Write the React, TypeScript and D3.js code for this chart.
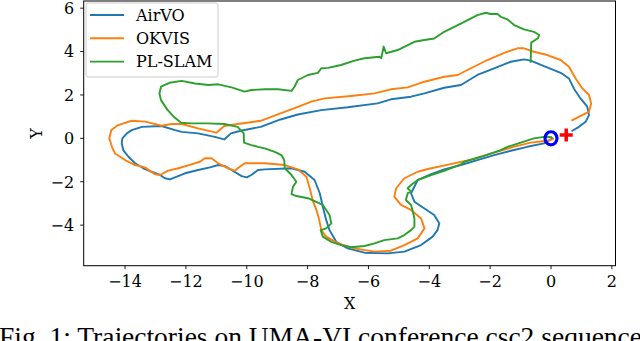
import React from 'react';
import * as d3 from 'd3';

// trajectories, [x, y] in metres
const airvo: [number, number][] = [
  [0.05, 0.0], [-0.23, -0.23], [-0.78, -0.39], [-1.32, -0.57], [-1.87, -0.77], [-2.42, -1.0],
  [-2.96, -1.23], [-3.51, -1.43], [-3.94, -1.65], [-4.38, -1.92], [-4.6, -2.53], [-4.49, -2.92],
  [-4.16, -3.23], [-3.84, -3.53], [-3.67, -3.92], [-3.73, -4.23], [-3.89, -4.53], [-4.27, -4.92],
  [-4.82, -5.22], [-5.37, -5.3], [-6.13, -5.27], [-6.68, -5.07], [-7.06, -4.77], [-7.28, -4.23],
  [-7.39, -3.76], [-7.5, -3.15], [-7.6, -2.53], [-7.77, -1.92], [-8.1, -1.54], [-8.53, -1.38],
  [-9.41, -1.43], [-9.63, -1.46], [-9.85, -1.69], [-10.0, -1.8], [-10.17, -1.74], [-10.5, -1.46],
  [-10.72, -1.28], [-10.94, -1.23], [-11.21, -1.34], [-11.6, -1.46], [-12.03, -1.61], [-12.36, -1.8],
  [-12.52, -1.89], [-12.69, -1.84], [-12.85, -1.69], [-13.13, -1.54], [-13.4, -1.38], [-13.67, -1.15],
  [-13.89, -0.85], [-14.06, -0.54], [-14.11, -0.23], [-14.09, 0.0], [-13.94, 0.23], [-13.78, 0.38],
  [-13.45, 0.53], [-12.8, 0.57], [-12.36, 0.38], [-12.14, 0.3], [-11.6, 0.23], [-11.05, 0.07],
  [-10.74, -0.05], [-10.52, 0.23], [-10.2, 0.35], [-9.54, 0.53], [-8.89, 0.87], [-8.32, 1.1],
  [-7.55, 1.3], [-6.68, 1.43], [-5.7, 1.61], [-5.26, 1.8], [-4.6, 1.92], [-4.16, 2.07],
  [-3.51, 2.33], [-2.96, 2.46], [-2.42, 2.92], [-1.87, 3.23], [-1.32, 3.53], [-0.89, 3.64],
  [-0.67, 3.58], [-0.23, 3.33], [0.32, 3.02], [0.59, 2.76], [0.75, 2.3], [0.97, 1.84],
  [1.19, 1.46], [1.25, 1.07], [1.14, 0.77], [0.92, 0.53], [0.7, 0.35]
];

const okvis: [number, number][] = [
  [0.05, -0.05], [-0.13, -0.11], [-0.67, -0.2], [-1.2, -0.38], [-2.01, -0.72], [-2.67, -1.0],
  [-3.34, -1.2], [-4.01, -1.4], [-4.38, -1.54], [-4.82, -1.84], [-5.09, -2.3], [-5.15, -2.69],
  [-4.93, -3.07], [-4.6, -3.3], [-4.27, -3.69], [-4.16, -4.15], [-4.38, -4.61], [-4.82, -4.92],
  [-5.26, -5.18], [-5.8, -5.22], [-6.46, -5.07], [-7.0, -4.84], [-7.39, -4.53], [-7.55, -4.23],
  [-7.63, -3.69], [-7.71, -3.3], [-7.82, -2.92], [-7.93, -2.3], [-8.04, -1.77], [-8.32, -1.43],
  [-8.75, -1.23], [-9.41, -1.15], [-10.07, -1.15], [-10.23, -1.31], [-10.4, -1.49], [-10.61, -1.38],
  [-10.94, -1.15], [-11.16, -0.92], [-11.38, -0.92], [-11.54, -1.08], [-11.82, -1.2], [-12.25, -1.38],
  [-12.58, -1.49], [-12.85, -1.69], [-13.02, -1.65], [-13.35, -1.34], [-13.67, -1.23], [-14.0, -1.0],
  [-14.33, -0.7], [-14.43, -0.39], [-14.52, 0.0], [-14.45, 0.38], [-14.23, 0.61], [-13.78, 0.81],
  [-13.34, 0.77], [-12.8, 0.58], [-12.47, 0.66], [-12.14, 0.66], [-11.6, 0.46], [-11.0, 0.26],
  [-10.74, 0.57], [-10.3, 0.66], [-9.54, 0.81], [-8.89, 1.15], [-8.32, 1.45], [-7.88, 1.69],
  [-7.44, 1.84], [-6.57, 1.95], [-5.8, 2.07], [-5.26, 2.26], [-4.71, 2.35], [-4.16, 2.61],
  [-3.51, 2.84], [-3.07, 2.92], [-2.63, 3.23], [-2.09, 3.61], [-1.54, 3.94], [-1.1, 4.15],
  [-0.89, 4.15], [-0.56, 3.99], [-0.12, 3.84], [0.32, 3.61], [0.59, 3.3], [0.81, 2.76],
  [1.03, 2.3], [1.25, 2.0], [1.32, 1.61], [1.25, 1.23], [0.7, 0.84]
];

const plslam: [number, number][] = [
  [0.0, 0.05], [-0.23, 0.07], [-0.56, 0.0], [-0.99, -0.2], [-1.43, -0.39], [-1.65, -0.54],
  [-2.3, -0.85], [-2.85, -1.08], [-2.96, -1.2], [-3.51, -1.5], [-3.94, -1.69], [-4.38, -1.92],
  [-4.6, -2.15], [-4.71, -2.3], [-4.6, -2.46], [-4.71, -2.53], [-4.77, -2.84], [-4.6, -3.07],
  [-4.54, -3.38], [-4.49, -3.69], [-4.49, -4.07], [-4.6, -4.23], [-4.82, -4.46], [-5.04, -4.61],
  [-5.48, -4.69], [-5.8, -4.84], [-6.13, -4.96], [-6.57, -5.02], [-6.9, -4.92], [-7.22, -4.77],
  [-7.5, -4.53], [-7.57, -4.23], [-7.39, -4.15], [-7.22, -3.92], [-7.28, -3.53], [-7.39, -3.3],
  [-7.5, -3.07], [-7.99, -2.76], [-8.37, -2.66], [-8.53, -2.57], [-8.48, -2.23], [-8.37, -2.0],
  [-8.53, -1.69], [-8.75, -1.38], [-8.77, -1.0], [-8.86, -0.77], [-9.08, -0.62], [-9.41, -0.46],
  [-9.63, -0.39], [-9.85, -0.31], [-10.09, -0.2], [-10.1, 0.23], [-10.3, 0.53], [-10.74, 0.66],
  [-11.29, 0.69], [-11.84, 0.69], [-12.16, 0.72], [-12.38, 0.97], [-12.6, 1.3], [-12.82, 1.76],
  [-12.87, 2.07], [-12.82, 2.38], [-12.54, 2.56], [-12.14, 2.65], [-11.7, 2.53], [-11.26, 2.46],
  [-10.94, 2.49], [-10.5, 2.35], [-10.07, 2.15], [-9.85, 2.23], [-9.41, 2.26], [-8.97, 2.26],
  [-8.53, 2.19], [-8.43, 2.38], [-8.32, 2.69], [-7.99, 2.92], [-7.66, 3.02], [-7.55, 3.23],
  [-7.33, 3.25], [-6.9, 3.38], [-6.46, 3.58], [-6.13, 3.69], [-5.64, 3.76], [-5.58, 3.69],
  [-5.5, 4.23], [-5.42, 3.92], [-5.04, 4.07], [-4.49, 4.45], [-4.16, 4.53], [-3.84, 4.6],
  [-3.51, 4.91], [-3.18, 5.14], [-2.85, 5.37], [-2.42, 5.68], [-2.14, 5.79], [-1.98, 5.73],
  [-1.76, 5.73], [-1.65, 5.6], [-1.43, 5.48], [-1.21, 5.22], [-0.89, 5.02], [-0.56, 4.91],
  [-0.39, 4.76], [-0.43, 4.61], [-0.65, 4.41], [-0.67, 3.53]
];

const seriesNames = ['AirVO', 'OKVIS', 'PL-SLAM'];
const seriesColors = ['#1f77b4', '#ff7f0e', '#2ca02c'];
const startPoint: [number, number] = [0, 0];
const endPoint: [number, number] = [0.5, 0.15];
const xTicks = [-14, -12, -10, -8, -6, -4, -2, 0, 2];
const yTicks = [-4, -2, 0, 2, 4, 6];
const caption = 'Fig. 1: Trajectories on UMA-VI conference csc2 sequence';

const W = 640, H = 341;
const left = 83.7, right = 615.5, top = 1, bottom = 265.7;
const font = 'DejaVu Serif';

export default function App() {
  const x = d3.scaleLinear().domain([-15.36, 2.12]).range([left, right]);
  const y = d3.scaleLinear().domain([-5.87, 6.33]).range([bottom, top]);
  const line = d3.line<[number, number]>().x(d => x(d[0])).y(d => y(d[1]));
  const tracks = [airvo, okvis, plslam];
  const fmt = (v: number) => (v < 0 ? '\u2212' + Math.abs(v) : String(v));

  const sx = x(startPoint[0]), sy = y(startPoint[1]);
  const ex = x(endPoint[0]), ey = y(endPoint[1]);

  return (
    <svg width={W} height={H} style={{ position: 'absolute', left: 0, top: 0, background: 'white' }}>
      <defs>
        <clipPath id="plot">
          <rect x={left} y={top} width={right - left} height={bottom - top} />
        </clipPath>
      </defs>
      <g clipPath="url(#plot)">
        {tracks.map((t, i) => (
          <path key={i} d={line(t) || ''} fill="none" stroke={seriesColors[i]} strokeWidth={1.9}
            strokeLinejoin="round" strokeLinecap="square" />
        ))}
        <ellipse cx={sx} cy={sy} rx={6} ry={6.6} fill="none" stroke="#0000ff" strokeWidth={3.2} />
        <line x1={ex - 6.5} x2={ex + 6.5} y1={ey} y2={ey} stroke="#ff0000" strokeWidth={3.5} />
        <line x1={ex} x2={ex} y1={ey - 6.5} y2={ey + 6.5} stroke="#ff0000" strokeWidth={3.5} />
      </g>

      <rect x={left} y={top} width={right - left} height={bottom - top} fill="none" stroke="#000" strokeWidth={1} />

      {xTicks.map(t => (
        <g key={'x' + t}>
          <line x1={x(t)} x2={x(t)} y1={bottom} y2={bottom + 3.5} stroke="#000" strokeWidth={0.9} />
          <text x={x(t)} y={bottom + 21.5} textAnchor="middle" fontFamily={font} fontSize={16}>{fmt(t)}</text>
        </g>
      ))}
      {yTicks.map(t => (
        <g key={'y' + t}>
          <line x1={left - 3.5} x2={left} y1={y(t)} y2={y(t)} stroke="#000" strokeWidth={0.9} />
          <text x={left - 9.5} y={y(t) + 5.8} textAnchor="end" fontFamily={font} fontSize={16}>{fmt(t)}</text>
        </g>
      ))}

      <text x={(left + right) / 2} y={309} textAnchor="middle" fontFamily={font} fontSize={16}>X</text>
      <text transform={`translate(42,${(top + bottom) / 2}) rotate(-90)`} textAnchor="middle"
        fontFamily={font} fontSize={16}>Y</text>

      <g>
        <rect x={86} y={3} width={132} height={74} rx={2.5} fill="white" fillOpacity={0.8}
          stroke="#cccccc" strokeWidth={1} />
        {seriesNames.map((n, i) => (
          <g key={n}>
            <line x1={90} x2={124} y1={15 + i * 23.3} y2={15 + i * 23.3} stroke={seriesColors[i]} strokeWidth={1.9} />
            <text x={136} y={15 + i * 23.3 + 5.8} fontFamily={font} fontSize={16}>{n}</text>
          </g>
        ))}
      </g>

      <text x={-1} y={346} fontFamily="Liberation Serif" fontSize={27.5}>{caption}</text>
    </svg>
  );
}
